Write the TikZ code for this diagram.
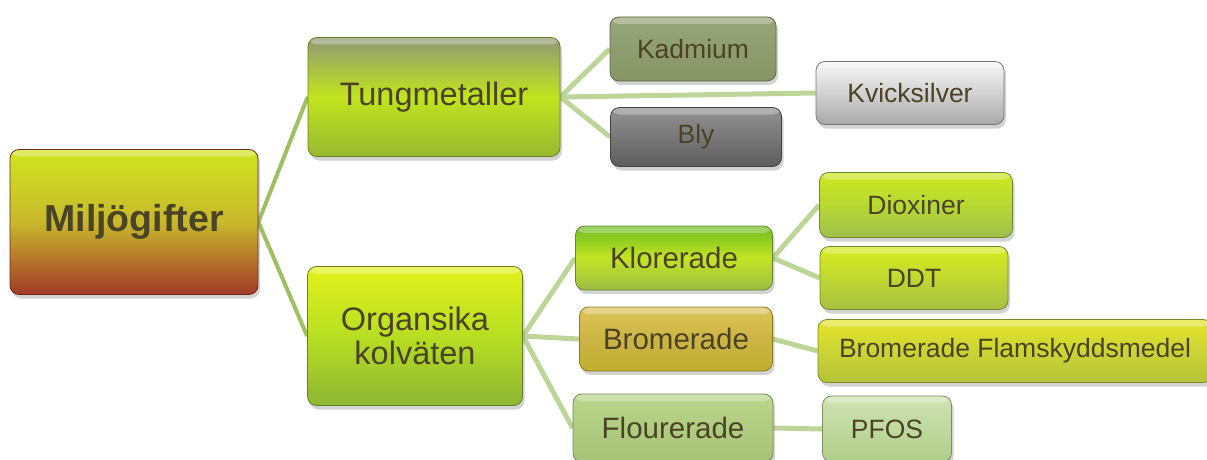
\documentclass[tikz,border=0pt]{standalone}
\usepackage{fontspec}
\setmainfont{Liberation Sans}
\usetikzlibrary{shadows,backgrounds}

\definecolor{txtbrown}{HTML}{4B4325}
\definecolor{linkmain}{HTML}{A0BF62}
\definecolor{linksub}{HTML}{BED59A}

% Box shading colours: top, middle, bottom
\definecolor{milT}{HTML}{CFE61E}\definecolor{milM}{HTML}{C8B82C}\definecolor{milB}{HTML}{A23A2A}
\definecolor{tungT}{HTML}{909876}\definecolor{tungM}{HTML}{C2E41E}\definecolor{tungB}{HTML}{98B830}
\definecolor{orgT}{HTML}{E2F21C}\definecolor{orgM}{HTML}{B8DE22}\definecolor{orgB}{HTML}{8EB634}
\definecolor{kadT}{HTML}{98A67A}\definecolor{kadM}{HTML}{8E9C70}\definecolor{kadB}{HTML}{889664}
\definecolor{kviT}{HTML}{F6F6F6}\definecolor{kviM}{HTML}{D2D2D2}\definecolor{kviB}{HTML}{A8A8A8}
\definecolor{blyT}{HTML}{929292}\definecolor{blyM}{HTML}{787878}\definecolor{blyB}{HTML}{5E5E5E}
\definecolor{klorT}{HTML}{6CBC20}\definecolor{klorM}{HTML}{C4E424}\definecolor{klorB}{HTML}{9CBC44}
\definecolor{bromT}{HTML}{DCC458}\definecolor{bromM}{HTML}{CCB444}\definecolor{bromB}{HTML}{C0B030}
\definecolor{flouT}{HTML}{BCD68C}\definecolor{flouM}{HTML}{B0CC80}\definecolor{flouB}{HTML}{A6C276}
\definecolor{dioxT}{HTML}{CCE81C}\definecolor{dioxM}{HTML}{B8D834}\definecolor{dioxB}{HTML}{A0BE4C}
\definecolor{ddtT}{HTML}{D6EC1E}\definecolor{ddtM}{HTML}{C0D830}\definecolor{ddtB}{HTML}{A8C044}
\definecolor{flamT}{HTML}{E4E42A}\definecolor{flamM}{HTML}{CCD434}\definecolor{flamB}{HTML}{B4C43A}
\definecolor{pfosT}{HTML}{D0E2B2}\definecolor{pfosM}{HTML}{C0D8A0}\definecolor{pfosB}{HTML}{B0CC88}

\begin{document}
\begin{tikzpicture}[
    x=1pt,
    y=-1pt,
    line cap=round,
    line join=round,
    tile/.style={
        draw=#1B!70!black,
        line width=0.8pt,
        rounded corners=9pt,
        inner sep=0pt,
        align=center,
        text=txtbrown,
        top color=#1T,
        bottom color=#1B,
        middle color=#1M,
        drop shadow={opacity=0.35, shadow xshift=2pt, shadow yshift=-4pt},
        path picture={
            \fill[white, opacity=0.3] (path picture bounding box.north west)
                rectangle ([yshift=-7pt]path picture bounding box.north east);
        }
    },
    rootfont/.style={font=\fontsize{37.5}{40}\selectfont\bfseries},
    bigfont/.style={font=\fontsize{32.5}{34}\selectfont},
    midfont/.style={font=\fontsize{29.5}{31}\selectfont},
    leaffont/.style={font=\fontsize{26.5}{28}\selectfont},
    link/.style={linksub, line width=5pt},
    rootlink/.style={linkmain, line width=4pt}
]
    \useasboundingbox (0,0) rectangle (1207,460);

    % Root
    \node[tile=mil, rootfont, minimum width=248, minimum height=145]
        (mil) at (134,222) {Milj\"ogifter};

    % Second level
    \node[tile=tung, bigfont, minimum width=252, minimum height=119]
        (tung) at (434,97) {Tungmetaller};
    \node[tile=org, bigfont, minimum width=215, minimum height=139]
        (org) at (415,336) {Organsika\\kolv\"aten};

    % Metals
    \node[tile=kad, leaffont, minimum width=166, minimum height=64]
        (kad) at (693,49) {Kadmium};
    \node[tile=kvi, leaffont, minimum width=188, minimum height=63]
        (kvick) at (910,93) {Kvicksilver};
    \node[tile=bly, leaffont, minimum width=171, minimum height=59]
        (bly) at (696,137) {Bly};

    % Hydrocarbon groups
    \node[tile=klor, midfont, minimum width=197, minimum height=64]
        (klor) at (674,258) {Klorerade};
    \node[tile=brom, midfont, minimum width=193, minimum height=64]
        (brom) at (676,339) {Bromerade};
    \node[tile=flou, midfont, minimum width=200, minimum height=68]
        (flour) at (673,428) {Flourerade};

    % Leaves
    \node[tile=diox, leaffont, minimum width=193, minimum height=65]
        (diox) at (916,205) {Dioxiner};
    \node[tile=ddt, leaffont, minimum width=188, minimum height=63]
        (ddt) at (914,278) {DDT};
    \node[tile=flam, leaffont, minimum width=394, minimum height=63]
        (bflam) at (1015,351) {Bromerade Flamskyddsmedel};
    \node[tile=pfos, leaffont, minimum width=129, minimum height=66]
        (pfos) at (887,429) {PFOS};

    % Connectors
    \begin{scope}[on background layer]
        \draw[rootlink] (mil.east) -- (tung.west);
        \draw[rootlink] (mil.east) -- (org.west);
        \foreach \leaf in {kad,kvick,bly} {
            \draw[link] (tung.east) -- (\leaf.west);
        }
        \foreach \leaf in {klor,brom,flour} {
            \draw[link] (org.east) -- (\leaf.west);
        }
        \draw[link] (klor.east) -- (diox.west);
        \draw[link] (klor.east) -- (ddt.west);
        \draw[link] (brom.east) -- (bflam.west);
        \draw[link] (flour.east) -- (pfos.west);
    \end{scope}
\end{tikzpicture}
\end{document}
